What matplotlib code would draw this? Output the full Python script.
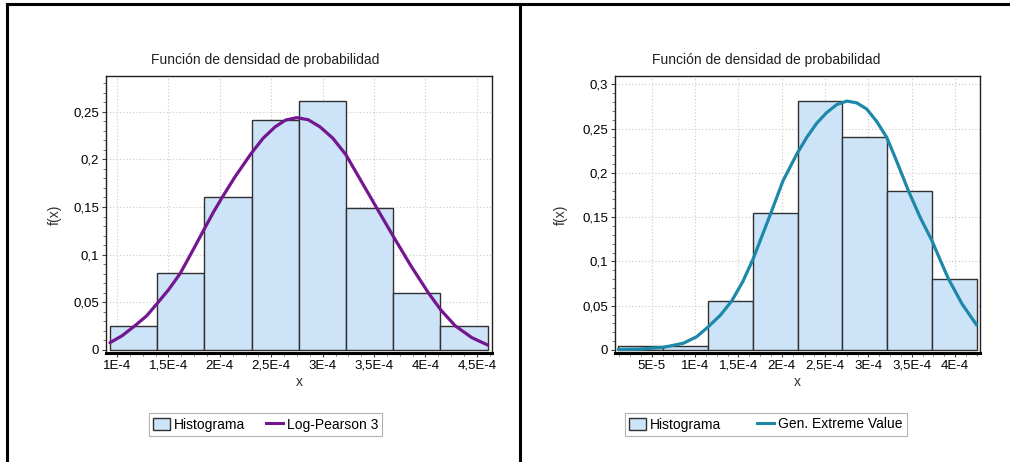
import matplotlib
matplotlib.use("Agg")
import matplotlib.pyplot as plt
from matplotlib.lines import Line2D
from matplotlib.patches import Patch
from matplotlib.ticker import FixedLocator, AutoMinorLocator
from matplotlib import font_manager

# ---------------- data ----------------
title_text = "Función de densidad de probabilidad"

# Left panel: histogram + Log-Pearson 3
left_bin_edges = [0.932e-4, 1.391e-4, 1.850e-4, 2.309e-4, 2.768e-4, 3.227e-4, 3.686e-4, 4.145e-4, 4.606e-4]
left_heights = [0.0255, 0.0804, 0.161, 0.241, 0.261, 0.149, 0.0598, 0.0255]
left_curve_x = [0.932e-4, 1.05e-4, 1.175e-4, 1.29e-4, 1.392e-4, 1.50e-4, 1.613e-4, 1.73e-4,
                1.849e-4, 1.94e-4, 2.028e-4, 2.15e-4, 2.304e-4, 2.42e-4, 2.537e-4, 2.64e-4,
                2.748e-4, 2.86e-4, 2.975e-4, 3.10e-4, 3.225e-4, 3.37e-4, 3.526e-4, 3.688e-4,
                3.86e-4, 4.028e-4, 4.149e-4, 4.288e-4, 4.45e-4, 4.606e-4]
left_curve_y = [0.0077, 0.015, 0.0255, 0.036, 0.049, 0.063, 0.080, 0.103,
                0.127, 0.145, 0.161, 0.182, 0.206, 0.222, 0.234, 0.2412,
                0.2437, 0.2415, 0.234, 0.222, 0.205, 0.178, 0.149, 0.119,
                0.088, 0.060, 0.042, 0.0255, 0.013, 0.0052]
left_xticks = [1e-4, 1.5e-4, 2e-4, 2.5e-4, 3e-4, 3.5e-4, 4e-4, 4.5e-4]
left_xticklabels = ["1E-4", "1,5E-4", "2E-4", "2,5E-4", "3E-4", "3,5E-4", "4E-4", "4,5E-4"]
left_yticks = [0, 0.05, 0.1, 0.15, 0.2, 0.25]
left_yticklabels = ["0", "0,05", "0,1", "0,15", "0,2", "0,25"]
left_curve_label = "Log-Pearson 3"

# Right panel: histogram + Gen. Extreme Value
right_bin_edges = [0.115e-4, 0.632e-4, 1.149e-4, 1.666e-4, 2.183e-4, 2.700e-4, 3.217e-4, 3.734e-4, 4.250e-4]
right_heights = [0.004, 0.004, 0.0553, 0.155, 0.281, 0.240, 0.180, 0.0805]
right_curve_x = [0.115e-4, 0.365e-4, 0.634e-4, 0.865e-4, 1.019e-4, 1.146e-4, 1.29e-4, 1.423e-4,
                 1.55e-4, 1.665e-4, 1.77e-4, 1.865e-4, 2.015e-4, 2.173e-4, 2.289e-4, 2.404e-4,
                 2.519e-4, 2.635e-4, 2.750e-4, 2.866e-4, 2.981e-4, 3.096e-4, 3.212e-4, 3.327e-4,
                 3.461e-4, 3.596e-4, 3.731e-4, 3.827e-4, 3.923e-4, 4.081e-4, 4.250e-4]
right_curve_y = [0.0005, 0.001, 0.003, 0.0076, 0.015, 0.0256, 0.039, 0.0553,
                 0.077, 0.1016, 0.128, 0.152, 0.191, 0.221, 0.240, 0.256,
                 0.268, 0.277, 0.281, 0.279, 0.272, 0.258, 0.240, 0.213,
                 0.180, 0.150, 0.124, 0.102, 0.0805, 0.052, 0.028]
right_xticks = [0.5e-4, 1e-4, 1.5e-4, 2e-4, 2.5e-4, 3e-4, 3.5e-4, 4e-4]
right_xticklabels = ["5E-5", "1E-4", "1,5E-4", "2E-4", "2,5E-4", "3E-4", "3,5E-4", "4E-4"]
right_yticks = [0, 0.05, 0.1, 0.15, 0.2, 0.25, 0.3]
right_yticklabels = ["0", "0,05", "0,1", "0,15", "0,2", "0,25", "0,3"]
right_curve_label = "Gen. Extreme Value"

hist_label = "Histograma"

# ---------------- style ----------------
names = {f.name for f in font_manager.fontManager.ttflist}
fam = "Liberation Sans Narrow" if "Liberation Sans Narrow" in names else "Liberation Sans"
plt.rcParams["font.family"] = [fam, "DejaVu Sans"]
FS = 9.5

BAR_FILL = "#cce3f8"
BAR_EDGE = "#303030"

W, H = 1010, 462
fig = plt.figure(figsize=(W / 100, H / 100), dpi=100)
fig.patch.set_facecolor("white")


def fx(px):
    return px / W


def fy(py):
    return 1 - py / H


def panel(rect, edges, heights, cx, cy, color, xlim, ylim, xt, xtl, yt, ytl, curve_label,
          panel_center, ylabel_x, legend_colspacing):
    ax = fig.add_axes(rect)
    widths = [edges[i + 1] - edges[i] for i in range(len(heights))]
    ax.bar(edges[:-1], heights, width=widths, align="edge", color=BAR_FILL,
           edgecolor=BAR_EDGE, linewidth=1.0, zorder=2)
    ax.plot(cx, cy, color=color, linewidth=2.3, zorder=3, solid_capstyle="round",
            solid_joinstyle="round")
    ax.set_xlim(*xlim)
    ax.set_ylim(*ylim)
    ax.xaxis.set_major_locator(FixedLocator(xt))
    ax.set_xticklabels(xtl, fontsize=FS)
    ax.yaxis.set_major_locator(FixedLocator(yt))
    ax.set_yticklabels(ytl, fontsize=FS)
    ax.xaxis.set_minor_locator(AutoMinorLocator(4))
    ax.yaxis.set_minor_locator(AutoMinorLocator(5))
    ax.tick_params(which="major", length=3, width=0.8, color="#404040", pad=2)
    ax.tick_params(which="minor", length=2, width=0.6, color="#606060")
    ax.grid(True, which="major", linestyle=(0, (1, 2)), color="#c8c8c8", linewidth=0.8, zorder=0)
    ax.set_axisbelow(True)
    for s in ["top", "right", "left"]:
        ax.spines[s].set_color("#202020")
        ax.spines[s].set_linewidth(1.0)
    ax.spines["bottom"].set_color("black")
    ax.spines["bottom"].set_linewidth(2.2)
    ax.set_xlabel("x", fontsize=FS + 0.5, labelpad=2, color="#303030")
    fig.text(fx(panel_center), fy(60), title_text, ha="center", va="center", fontsize=FS + 0.5,
             color="#202020")
    fig.text(fx(ylabel_x), fy(215), "f(x)", ha="center", va="center", rotation=90,
             fontsize=FS + 0.5, color="#303030")
    handles = [Patch(facecolor=BAR_FILL, edgecolor=BAR_EDGE, linewidth=1.0),
               Line2D([0], [0], color=color, linewidth=2.2)]
    leg = fig.legend(handles, [hist_label, curve_label], loc="center",
                     bbox_to_anchor=(fx(panel_center), fy(424.5)), ncol=2, fontsize=FS + 0.5,
                     frameon=True, fancybox=False, handlelength=1.2, handleheight=1.0,
                     handletextpad=0.3, columnspacing=legend_colspacing, borderpad=0.3,
                     borderaxespad=0)
    leg.get_frame().set_edgecolor("#a0a0a0")
    leg.get_frame().set_linewidth(0.8)
    return ax


panel([fx(106), fy(353), (491.7 - 106) / W, (353 - 76) / H],
      left_bin_edges, left_heights, left_curve_x, left_curve_y, "#74168f",
      (0.893e-4, 4.644e-4), (-0.00315, 0.2874),
      left_xticks, left_xticklabels, left_yticks, left_yticklabels, left_curve_label,
      265.5, 55, 1.5)

panel([fx(615), fy(353), (980 - 615) / W, (353 - 76) / H],
      right_bin_edges, right_heights, right_curve_x, right_curve_y, "#1d88a8",
      (0.0765e-4, 4.288e-4), (-0.0034, 0.3093),
      right_xticks, right_xticklabels, right_yticks, right_yticklabels, right_curve_label,
      766, 561, 2.6)

# outer table frame
lw = 2.2
fig.add_artist(Line2D([fx(7), 1.0], [fy(4.3), fy(4.3)], color="black", linewidth=lw))
fig.add_artist(Line2D([fx(7), fx(7)], [fy(4.3), 0.0], color="black", linewidth=lw))
fig.add_artist(Line2D([fx(520), fx(520)], [fy(4.3), 0.0], color="black", linewidth=lw))

fig.savefig("out.png", dpi=100, facecolor="white")
